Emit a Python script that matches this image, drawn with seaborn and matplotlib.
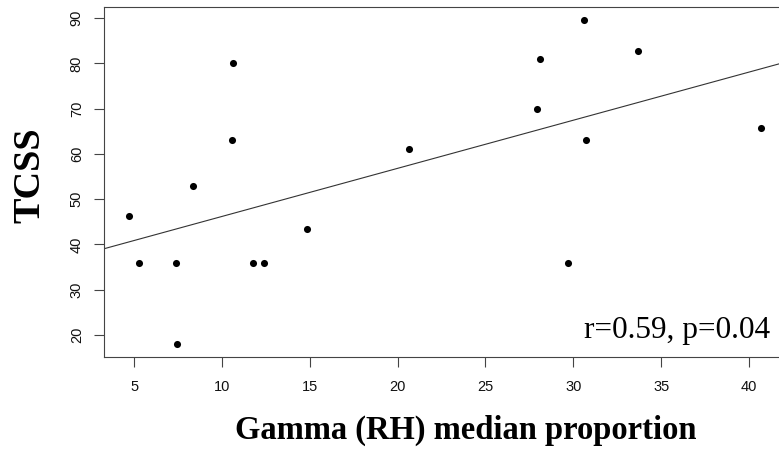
import pandas as pd
import matplotlib
matplotlib.use("Agg")
import matplotlib.pyplot as plt
import seaborn as sns

# Values
gamma_rh = [4.72, 5.28, 7.40, 7.45, 8.36, 10.58, 10.64, 11.78, 12.40, 14.86,
            20.67, 27.96, 28.08, 29.67, 30.58, 30.70, 33.66, 40.67]
tcss = [46.2, 36.0, 36.0, 18.0, 53.0, 63.0, 80.0, 36.0, 36.0, 43.5,
        61.0, 70.0, 81.0, 36.0, 89.6, 63.0, 82.7, 65.7]
x_ticks = [5, 10, 15, 20, 25, 30, 35, 40]
y_ticks = [20, 30, 40, 50, 60, 70, 80, 90]
stat_text = "r=0.59, p=0.04"

sns.set_style("ticks")
plt.rcParams["font.family"] = ["Liberation Sans", "DejaVu Sans"]
plt.rcParams["text.color"] = "black"
plt.rcParams["axes.labelcolor"] = "black"

df = pd.DataFrame({"gamma": gamma_rh, "tcss": tcss})

fig = plt.figure(figsize=(7.79, 4.54), dpi=100)
ax = fig.add_axes([104 / 779, 97 / 454, 682 / 779, 350 / 454])

# R-style 4% padding around data range
xr = max(gamma_rh) - min(gamma_rh)
yr = max(tcss) - min(tcss)
ax.set_xlim(min(gamma_rh) - 0.04 * xr, max(gamma_rh) + 0.04 * xr)
ax.set_ylim(min(tcss) - 0.04 * yr, max(tcss) + 0.04 * yr)

sns.regplot(data=df, x="gamma", y="tcss", ax=ax, ci=None, truncate=False,
            scatter_kws={"s": 26, "color": "black", "linewidths": 0, "alpha": 1},
            line_kws={"color": "#333333", "linewidth": 0.8})

ax.set_xticks(x_ticks)
ax.set_yticks(y_ticks)
ax.set_yticklabels([str(v) for v in y_ticks], rotation=90, va="center")
ax.tick_params(axis="both", length=7.5, width=0.8, color="#444444",
               labelsize=10.5, labelcolor="#111111")
ax.tick_params(axis="x", pad=9)
ax.tick_params(axis="y", pad=7)
for side in ax.spines.values():
    side.set_color("#444444")
    side.set_linewidth(0.8)

ax.set_xlabel("Gamma (RH) median proportion", family="Liberation Serif",
              fontweight="bold", fontsize=23.5, color="black")
ax.xaxis.set_label_coords(0.531, -0.165)
ax.set_ylabel("TCSS", family="Liberation Serif", fontweight="bold",
              fontsize=27.5, color="black")
ax.yaxis.set_label_coords(-0.083, 0.52)

ax.text(0.977, 0.054, stat_text, transform=ax.transAxes, ha="right",
        va="baseline", family="Liberation Serif", fontsize=22.5, color="black")

fig.savefig("out.png", dpi=100)
